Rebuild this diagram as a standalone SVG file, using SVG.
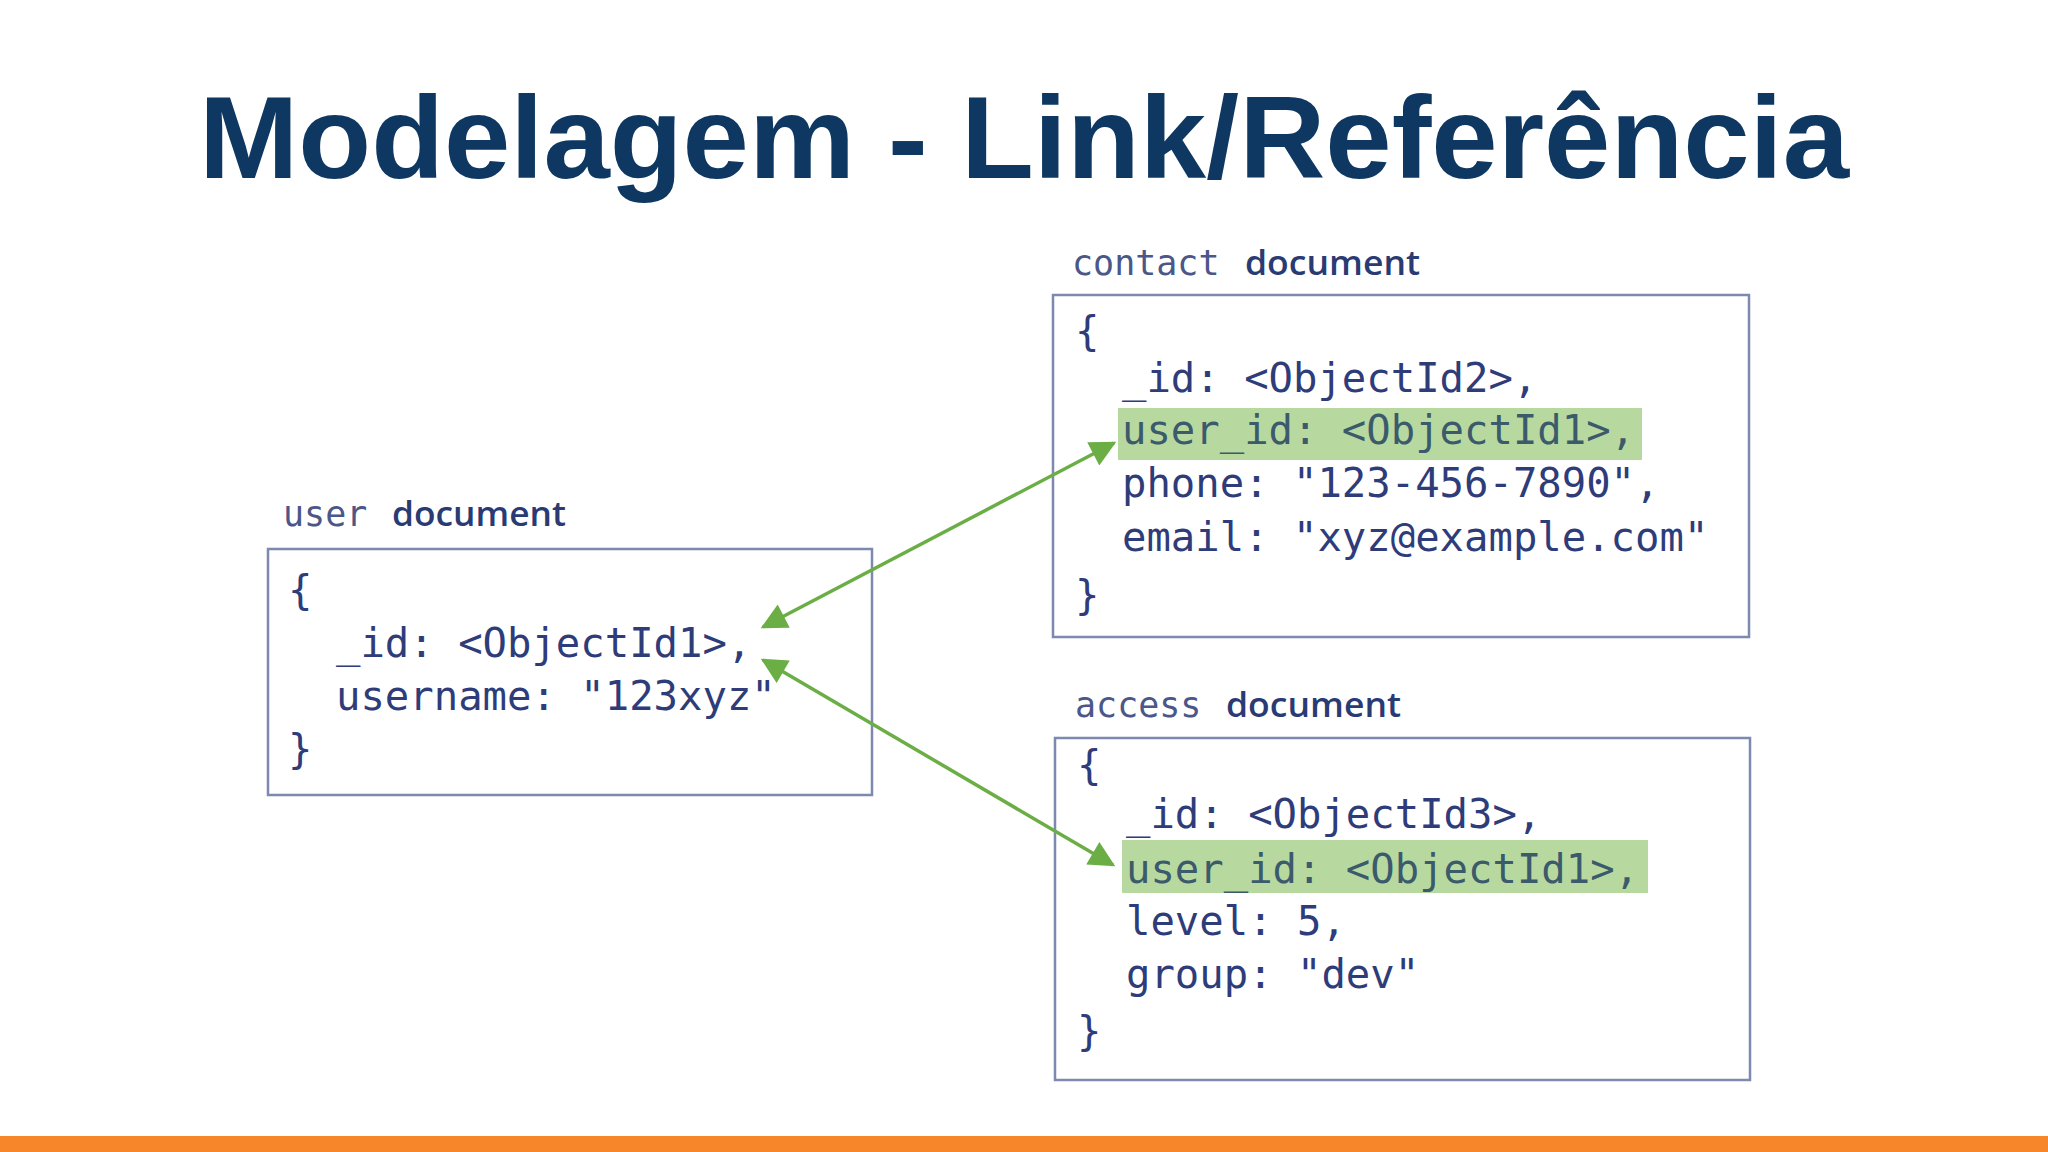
<svg xmlns="http://www.w3.org/2000/svg" width="2048" height="1152" viewBox="0 0 2048 1152">
  <defs>
    <style>
      .title { font-family: "Liberation Sans", Arial, sans-serif; font-weight: bold; font-size: 116px; fill: #0e3862; }
      .lbl { font-family: "DejaVu Sans Mono", "Liberation Mono", monospace; font-size: 35px; fill: #4a5788; }
      .lblb { font-family: "Open Sans", "DejaVu Sans", sans-serif; font-size: 35px; font-weight: 600; fill: #2a3b74; }
      .box { fill: #ffffff; stroke: #7e89b0; stroke-width: 2.5; }
      .code { font-family: "DejaVu Sans Mono", "Liberation Mono", monospace; font-size: 40.6px; fill: #2e3c7a; }
      .hl { fill: #b7d99f; }
      .hlt { fill: #3b5a6c; }
      .conn { fill: none; stroke: #6cae46; stroke-width: 3.5; }
    </style>
    <marker id="ah" viewBox="0 0 10 10" refX="9" refY="5" markerWidth="32" markerHeight="26" markerUnits="userSpaceOnUse" orient="auto-start-reverse">
      <path d="M0,0 L10,5 L0,10 z" fill="#6cae46"/>
    </marker>
  </defs>

  <rect x="0" y="0" width="2048" height="1152" fill="#ffffff"/>

  <text class="title" x="199" y="178" textLength="1650" lengthAdjust="spacingAndGlyphs">Modelagem - Link/Referência</text>

  <g id="user-document">
    <text class="lbl" x="283" y="526">user</text>
    <text class="lblb" x="392" y="526" textLength="174" lengthAdjust="spacingAndGlyphs">document</text>
    <rect class="box" x="268" y="549" width="604" height="246"/>
    <text class="code" x="288" y="604">{</text>
    <text class="code" x="336" y="657">_id: &lt;ObjectId1&gt;,</text>
    <text class="code" x="336" y="710">username: "123xyz"</text>
    <text class="code" x="288" y="763">}</text>
  </g>

  <g id="contact-document">
    <text class="lbl" x="1072" y="275">contact</text>
    <text class="lblb" x="1245" y="275" textLength="175" lengthAdjust="spacingAndGlyphs">document</text>
    <rect class="box" x="1053" y="295" width="696" height="342"/>
    <rect class="hl" x="1118" y="408" width="524" height="52"/>
    <text class="code" x="1075" y="345">{</text>
    <text class="code" x="1122" y="392">_id: &lt;ObjectId2&gt;,</text>
    <text class="code hlt" x="1122" y="444">user_id: &lt;ObjectId1&gt;,</text>
    <text class="code" x="1122" y="497">phone: "123-456-7890",</text>
    <text class="code" x="1122" y="551">email: "xyz@example.com"</text>
    <text class="code" x="1075" y="609">}</text>
  </g>

  <g id="access-document">
    <text class="lbl" x="1075" y="717">access</text>
    <text class="lblb" x="1226" y="717" textLength="175" lengthAdjust="spacingAndGlyphs">document</text>
    <rect class="box" x="1055" y="738" width="695" height="342"/>
    <rect class="hl" x="1122" y="840" width="526" height="53"/>
    <text class="code" x="1077" y="779">{</text>
    <text class="code" x="1126" y="828">_id: &lt;ObjectId3&gt;,</text>
    <text class="code hlt" x="1126" y="883">user_id: &lt;ObjectId1&gt;,</text>
    <text class="code" x="1126" y="935">level: 5,</text>
    <text class="code" x="1126" y="988">group: "dev"</text>
    <text class="code" x="1077" y="1045">}</text>
  </g>

  <g id="connectors">
    <line class="conn" x1="1114" y1="443" x2="763" y2="627" marker-start="url(#ah)" marker-end="url(#ah)"/>
    <line class="conn" x1="763" y1="660" x2="1113" y2="865" marker-start="url(#ah)" marker-end="url(#ah)"/>
  </g>

  <rect x="0" y="1136" width="2048" height="16" fill="#f7852a"/>
</svg>
